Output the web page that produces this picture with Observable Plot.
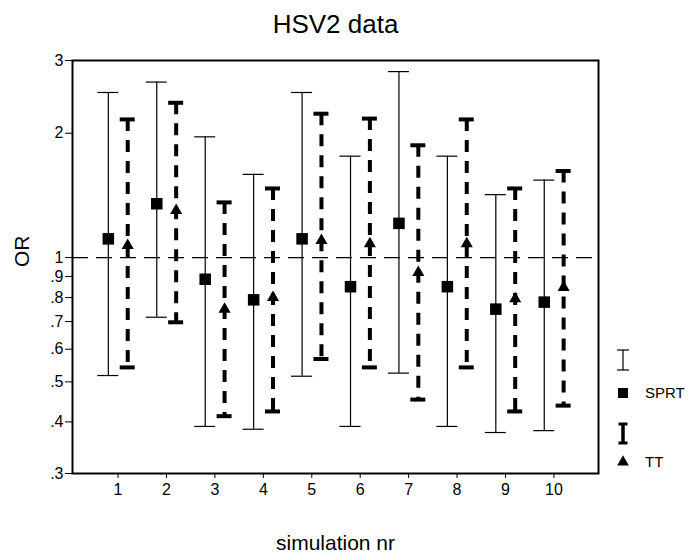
<!DOCTYPE html>
<html><head><meta charset="utf-8">
<script src="https://cdn.jsdelivr.net/npm/d3@7"></script>
<script src="https://cdn.jsdelivr.net/npm/@observablehq/plot@0.6"></script>
<style>
html,body{margin:0;padding:0;background:#fff;}
#wrap{position:relative;width:688px;height:554px;font-family:"Liberation Sans",Arial,sans-serif;}
#legend{position:absolute;left:0;top:0;}
#wrap g[aria-label="x-axis tick label"] text,
#wrap g[aria-label="y-axis tick label"] text{font-size:16px;}
</style></head><body>
<div id="wrap"></div>
<script>
// ---- data ----
const sims = [1, 2, 3, 4, 5, 6, 7, 8, 9, 10];
const sprtOR   = [1.11, 1.35, 0.886, 0.79, 1.11, 0.85, 1.21, 0.85, 0.75, 0.78];
const sprtLow  = [0.518, 0.717, 0.390, 0.384, 0.516, 0.390, 0.525, 0.390, 0.377, 0.381];
const sprtHigh = [2.51, 2.66, 1.96, 1.59, 2.51, 1.76, 2.82, 1.76, 1.42, 1.54];
const ttOR     = [1.07, 1.30, 0.75, 0.80, 1.10, 1.08, 0.92, 1.08, 0.795, 0.846];
const ttLow    = [0.542, 0.697, 0.413, 0.424, 0.568, 0.542, 0.453, 0.542, 0.424, 0.438];
const ttHigh   = [2.16, 2.37, 1.36, 1.47, 2.23, 2.17, 1.87, 2.16, 1.47, 1.62];
const yTicks = [0.3, 0.4, 0.5, 0.6, 0.7, 0.8, 0.9, 1, 2, 3];
const yTickLabels = [".3", ".4", ".5", ".6", ".7", ".8", ".9", "1", "2", "3"];
const seriesNames = ["SPRT", "TT"];
const titleText = "HSV2 data";
const xLabel = "simulation nr";
const yLabel = "OR";

// ---- build tables ----
const off = 0.2;
const sprt = sims.map((s, i) => ({sim: s, x: s - off, or: sprtOR[i], lo: sprtLow[i], hi: sprtHigh[i]}));
const tt = sims.map((s, i) => ({sim: s, x: s + off, or: ttOR[i], lo: ttLow[i], hi: ttHigh[i]}));
const labelOf = new Map(yTicks.map((t, i) => [t, yTickLabels[i]]));
const font = "'Liberation Sans', Arial, sans-serif";

const chart = Plot.plot({
  width: 688, height: 554,
  marginLeft: 72, marginRight: 90, marginTop: 60, marginBottom: 81,
  style: {fontFamily: font, fontSize: "16px", color: "#000", background: "#fff"},
  x: {type: "linear", domain: [0.06, 10.92]},
  y: {type: "log", domain: [0.3, 3]},
  marks: [
    Plot.axisX({ticks: sims, tickFormat: d => String(d), tickSize: 5, tickPadding: 5, label: null, fontSize: 16}),
    Plot.axisY({ticks: yTicks, tickFormat: d => labelOf.get(d), tickSize: 7, tickPadding: 2, label: null, fontSize: 16}),
    Plot.ruleY([1], {stroke: "#000", strokeWidth: 1.2, strokeDasharray: "16,8"}),
    // SPRT: thin solid error bars
    Plot.ruleX(sprt, {x: "x", y1: "lo", y2: "hi", stroke: "#000", strokeWidth: 1.2}),
    Plot.ruleY(sprt, {x1: "x", x2: "x", y: "hi", insetLeft: -10.5, insetRight: -10.5, stroke: "#000", strokeWidth: 1.2}),
    Plot.ruleY(sprt, {x1: "x", x2: "x", y: "lo", insetLeft: -10.5, insetRight: -10.5, stroke: "#000", strokeWidth: 1.2}),
    // TT: thick dashed error bars
    Plot.ruleX(tt, {x: "x", y1: "hi", y2: "lo", stroke: "#000", strokeWidth: 4, strokeDasharray: "12,9"}),
    Plot.ruleY(tt, {x1: "x", x2: "x", y: "hi", insetLeft: -7.5, insetRight: -7.5, stroke: "#000", strokeWidth: 4}),
    Plot.ruleY(tt, {x1: "x", x2: "x", y: "lo", insetLeft: -7.5, insetRight: -7.5, stroke: "#000", strokeWidth: 4}),
    Plot.dot(sprt, {x: "x", y: "or", symbol: "square", r: 6.5, fill: "#000", stroke: "none"}),
    Plot.dot(tt, {x: "x", y: "or", symbol: "triangle", r: 4.5, fill: "#000", stroke: "none"}),
    Plot.frame({stroke: "#000", strokeWidth: 2}),
    Plot.text([titleText], {frameAnchor: "top", dy: -36, fontSize: 26, lineAnchor: "middle"}),
    Plot.text([xLabel], {frameAnchor: "bottom", dy: 70, fontSize: 21, lineAnchor: "middle"}),
    Plot.text([yLabel], {frameAnchor: "left", dx: -50, fontSize: 21, rotate: -90, lineAnchor: "middle"})
  ]
});
const wrap = document.getElementById("wrap");
wrap.appendChild(chart);

// ---- legend overlay ----
const lg = d3.select(wrap).append("svg").attr("id", "legend")
  .attr("width", 688).attr("height", 554).style("pointer-events", "none");
const lx = 623, tx = 645;
// thin I
lg.append("line").attr("x1", lx).attr("x2", lx).attr("y1", 350).attr("y2", 370).attr("stroke", "#000").attr("stroke-width", 1.2);
lg.append("line").attr("x1", lx - 6).attr("x2", lx + 6).attr("y1", 350).attr("y2", 350).attr("stroke", "#000").attr("stroke-width", 1.2);
lg.append("line").attr("x1", lx - 6).attr("x2", lx + 6).attr("y1", 370).attr("y2", 370).attr("stroke", "#000").attr("stroke-width", 1.2);
// square
lg.append("rect").attr("x", lx - 5).attr("y", 388).attr("width", 10).attr("height", 10).attr("fill", "#000");
lg.append("text").attr("x", tx).attr("y", 393).attr("dy", "0.35em").attr("font-size", 15).attr("font-family", font).text(seriesNames[0]);
// thick I
lg.append("line").attr("x1", lx).attr("x2", lx).attr("y1", 423).attr("y2", 444).attr("stroke", "#000").attr("stroke-width", 3.5);
lg.append("line").attr("x1", lx - 4.5).attr("x2", lx + 4.5).attr("y1", 424).attr("y2", 424).attr("stroke", "#000").attr("stroke-width", 3);
lg.append("line").attr("x1", lx - 4.5).attr("x2", lx + 4.5).attr("y1", 443).attr("y2", 443).attr("stroke", "#000").attr("stroke-width", 3);
// triangle
lg.append("path").attr("d", d3.symbol(d3.symbolTriangle, 60)()).attr("transform", `translate(${lx},462)`).attr("fill", "#000");
lg.append("text").attr("x", tx).attr("y", 462).attr("dy", "0.35em").attr("font-size", 15).attr("font-family", font).text(seriesNames[1]);
</script>
</body></html>
